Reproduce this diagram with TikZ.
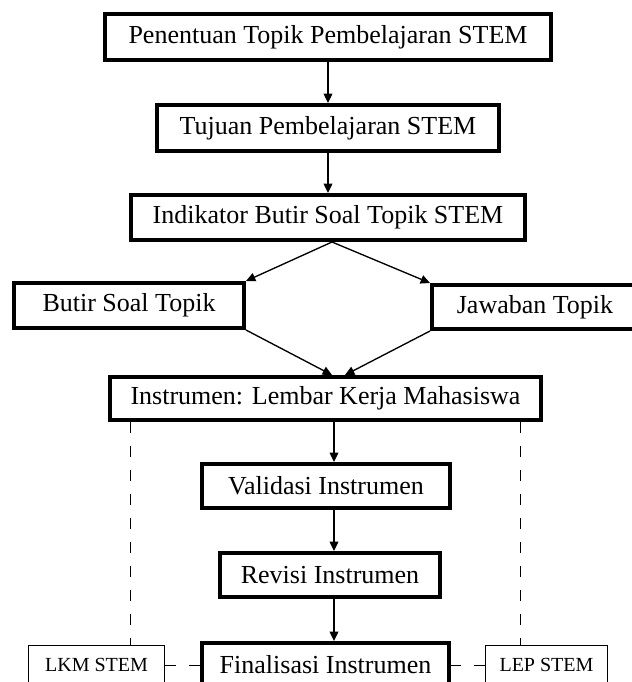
\documentclass[tikz,border=0pt]{standalone}
\usepackage{fontspec}
\setmainfont{Liberation Serif}
\usetikzlibrary{arrows.meta,calc}
\begin{document}
\begin{tikzpicture}[x=0.75pt,y=-0.75pt,
 box/.style={draw,line width=3pt,inner sep=0pt,font=\fontsize{19.5}{23}\selectfont},
 sbox/.style={draw,line width=0.75pt,inner sep=0pt,font=\fontsize{15}{18}\selectfont},
 arr/.style={line width=1pt,-{Triangle[length=7pt,width=6.5pt]}},
 dline/.style={line width=0.75pt,dash pattern=on 8pt off 10pt}]
\useasboundingbox (0,0) rectangle (632,682);
\clip (0,0) rectangle (632,682);
\fill[white] (0,0) rectangle (632,682);
% boxes
\node[box,minimum width=334.5pt,minimum height=34.5pt] (b1) at (328,37) {Penentuan Topik Pembelajaran STEM};
\node[box,minimum width=256.5pt,minimum height=34.5pt] (b2) at (328,128) {Tujuan Pembelajaran STEM};
\node[box,minimum width=295.5pt,minimum height=33.75pt] (b3) at (328,217.5) {Indikator Butir Soal Topik STEM};
\node[box,minimum width=172.5pt,minimum height=33.75pt] (b4) at (129,305.5) {Butir Soal Topik};
\node[box,minimum width=154.5pt,minimum height=33pt] (b5) at (535,307) {Jawaban Topik};
\node[box,minimum width=323.25pt,minimum height=32.25pt] (b6) at (325.5,398.5) {Instrumen: Lembar Kerja Mahasiswa};
\node[box,minimum width=186pt,minimum height=33pt] (b7) at (326,486) {Validasi Instrumen};
\node[box,minimum width=165pt,minimum height=33pt] (b8) at (330,575) {Revisi Instrumen};
\node[box,minimum width=185.25pt,minimum height=33pt] (b9) at (325.5,665) {Finalisasi Instrumen};
\node[sbox,minimum width=102pt,minimum height=30pt] (b10) at (96.5,665) {LKM STEM};
\node[sbox,minimum width=91.5pt,minimum height=30pt] (b11) at (546.5,665) {LEP STEM};
% helper columns
\coordinate (ca) at (328,0);
\coordinate (cb) at (334,0);
\coordinate (dl) at (130,0);
\coordinate (dr) at (520,0);
\coordinate (t1) at (332,0);
\coordinate (t2) at (345,0);
% arrows
\draw[arr] (b1.south -| ca) -- (b2.north -| ca);
\draw[arr] (b2.south -| ca) -- (b3.north -| ca);
\draw[arr] (b3.south -| t1) -- (b4.north east);
\draw[arr] (b3.south -| t1) -- (b5.north west);
\draw[arr] (b4.south east) -- (b6.north -| t1);
\draw[arr] (b5.south west) -- (b6.north -| t2);
\draw[arr] (b6.south -| cb) -- (b7.north -| cb);
\draw[arr] (b7.south -| cb) -- (b8.north -| cb);
\draw[arr] (b8.south -| cb) -- (b9.north -| cb);
% dashed links
\draw[dline] (b6.south -| dl) -- (b10.north -| dl);
\draw[dline] (b6.south -| dr) -- (b11.north -| dr);
\draw[dline] (b10.east) -- (b9.west);
\draw[dline] (b11.west) -- (b9.east);
\end{tikzpicture}
\end{document}
